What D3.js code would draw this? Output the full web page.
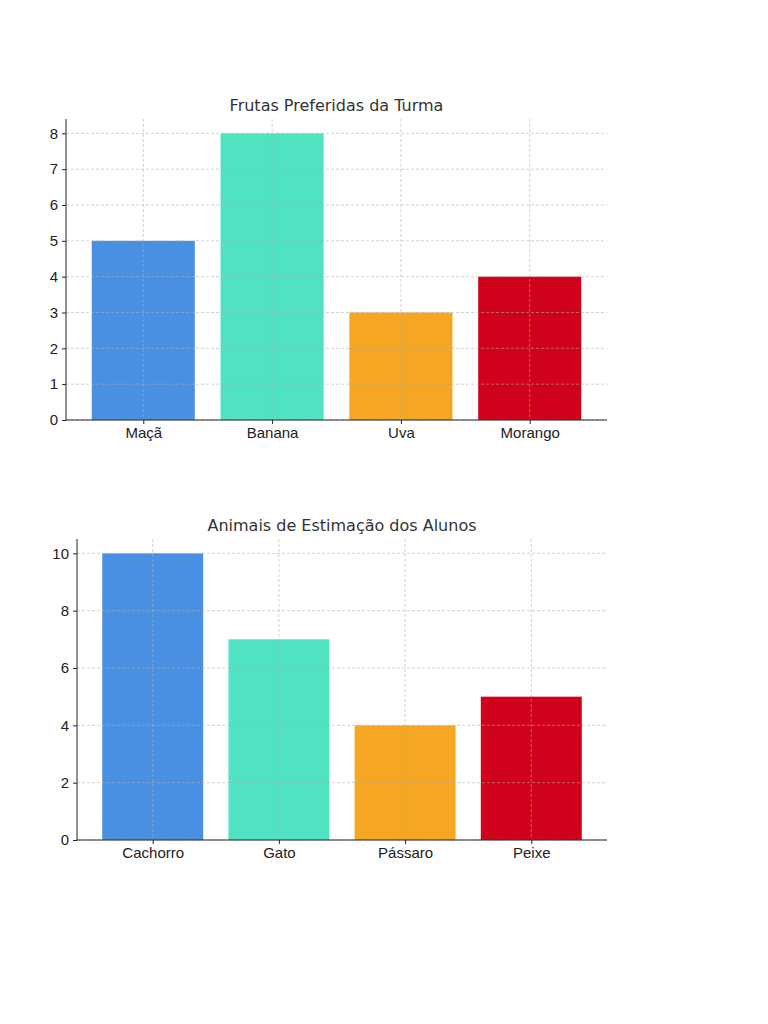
<!DOCTYPE html>
<html><head><meta charset="utf-8">
<script src="https://cdn.jsdelivr.net/npm/d3@7"></script>
<style>body{margin:0;background:#fff}svg{font-family:"DejaVu Sans",sans-serif}</style>
</head><body><svg id="c" width="768" height="1024"></svg>
<script>
const colors = ["#4A90E2","#50E3C2","#F5A623","#D0021B"];
const fruitCats = ["Maçã","Banana","Uva","Morango"];
const fruitVals = [5,8,3,4];
const fruitTicks = [0,1,2,3,4,5,6,7,8];
const petCats = ["Cachorro","Gato","Pássaro","Peixe"];
const petVals = [10,7,4,5];
const petTicks = [0,2,4,6,8,10];

const svg = d3.select("#c");
function chart(o){
  const x = d3.scaleLinear().domain([-0.6,3.6]).range([o.l,o.r]);
  const y = d3.scaleLinear().domain([0,o.max]).range([o.b,o.t]);
  const g = svg.append("g");
  g.selectAll("rect.bar").data(o.vals).join("rect")
    .attr("x",(d,i)=>x(i-0.4)).attr("width",x(0.8)-x(0))
    .attr("y",d=>y(d)).attr("height",d=>y(0)-y(d))
    .attr("fill",(d,i)=>colors[i]);
  // grid
  g.selectAll("line.gy").data(o.ticks).join("line")
    .attr("x1",o.l).attr("x2",o.r).attr("y1",d=>y(d)).attr("y2",d=>y(d))
    .attr("stroke","#b0b0b0").attr("stroke-width",0.8).attr("stroke-dasharray","3,2").attr("opacity",0.7);
  g.selectAll("line.gx").data(o.cats).join("line")
    .attr("x1",(d,i)=>x(i)).attr("x2",(d,i)=>x(i)).attr("y1",o.t).attr("y2",o.b)
    .attr("stroke","#b0b0b0").attr("stroke-width",0.8).attr("stroke-dasharray","3,2").attr("opacity",0.7);
  const ya = g.append("g").attr("transform",`translate(${o.l},0)`)
    .call(d3.axisLeft(y).tickValues(o.ticks).tickSize(4).tickPadding(4).tickFormat(d3.format("d")));
  const xa = g.append("g").attr("transform",`translate(0,${o.b})`)
    .call(d3.axisBottom(x).tickValues([0,1,2,3]).tickSize(4).tickPadding(3).tickFormat(i=>o.cats[i]));
  [ya,xa].forEach(a=>{a.select(".domain").remove();a.selectAll("text").attr("font-size",15).attr("fill","#222");a.selectAll("line").attr("stroke","#222");});
  g.append("line").attr("x1",o.l).attr("x2",o.l).attr("y1",o.t).attr("y2",o.b).attr("stroke","#222");
  g.append("line").attr("x1",o.l).attr("x2",o.r).attr("y1",o.b).attr("y2",o.b).attr("stroke","#222");
  g.append("text").attr("x",(o.l+o.r)/2).attr("y",o.t-8).attr("text-anchor","middle")
    .attr("font-size",16).attr("fill","#333").text(o.title);
}
chart({l:66,r:607,t:119,b:420,max:8.4,vals:fruitVals,cats:fruitCats,ticks:fruitTicks,title:"Frutas Preferidas da Turma"});
chart({l:77,r:607,t:539,b:840,max:10.5,vals:petVals,cats:petCats,ticks:petTicks,title:"Animais de Estimação dos Alunos"});
</script></body></html>
